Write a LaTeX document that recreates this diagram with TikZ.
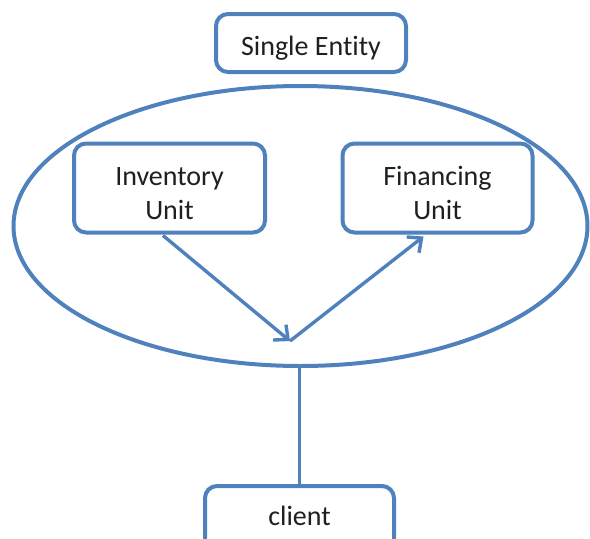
\documentclass[tikz,border=0pt]{standalone}
\usepackage{fontspec}
\setmainfont{Carlito}[Ligatures=NoCommon]
\usetikzlibrary{shapes.geometric,arrows.meta,calc}
\definecolor{officeblue}{RGB}{79,129,189}
\tikzset{
  box/.style={draw=officeblue, line width=4pt, rounded corners=12pt, inner sep=0pt, fill=none},
  lbl/.style={inner sep=0pt, anchor=base, font=\fontsize{28}{34}\selectfont, text=black!88},
  conn/.style={draw=officeblue, line width=3.4pt},
  tip/.style={-{Straight Barb[length=11pt,width=20pt,line width=3.4pt]}}
}
\begin{document}
\begin{tikzpicture}[x=1pt,y=-1pt]
\useasboundingbox (0,0) rectangle (590,539);
\clip (0,0) rectangle (590,539);
\node[draw=officeblue, line width=4pt, ellipse, inner sep=0pt, minimum width=574pt, minimum height=280pt] (ell) at (300.5,226) {};
\node[box, minimum width=190pt, minimum height=58pt] (single) at (311,43) {};
\node[lbl] (singlet) at (311,55) {Single Entity};
\node[box, fill=white, minimum width=191pt, minimum height=89pt] (inv) at (169.5,188) {};
\node[lbl] (invt1) at (169.5,185) {Inventory};
\node[lbl] (invt2) at (169.5,219) {Unit};
\node[box, fill=white, minimum width=190pt, minimum height=89pt] (fin) at (437.5,188) {};
\node[lbl] (fint1) at (437.5,185) {Financing};
\node[lbl] (fint2) at (437.5,219) {Unit};
\node[box, fill=white, minimum width=189pt, minimum height=90pt] (client) at (299.5,531) {};
\node[lbl] (clientt) at (299.5,525) {client};
\coordinate (v) at (290,341);
\draw[conn, tip] ($(inv.south)+(-6.5,1)$) -- (v);
\draw[conn, tip] (v) -- ($(fin.south)+(-14,2)$);
\draw[conn] (ell.south -| client.north) -- (client.north);
\end{tikzpicture}
\end{document}
